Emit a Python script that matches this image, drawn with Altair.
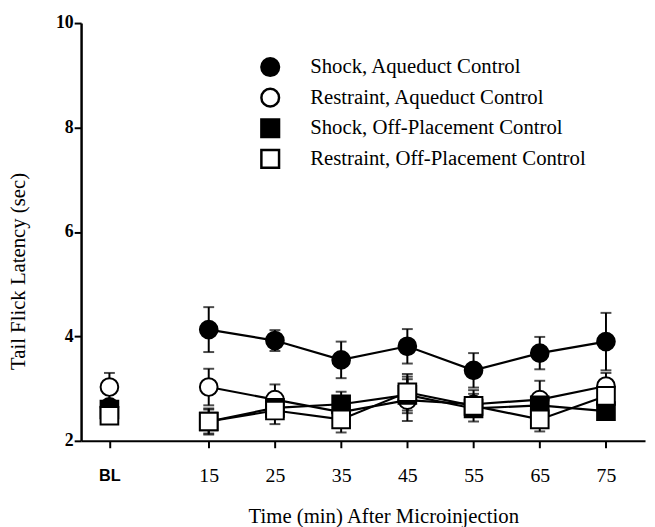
import altair as alt
import pandas as pd

times = [0, 15, 25, 35, 45, 55, 65, 75]
series_names = [
    "Shock, Aqueduct Control",
    "Restraint, Aqueduct Control",
    "Shock, Off-Placement Control",
    "Restraint, Off-Placement Control",
]
shock_aq = [2.65, 4.13, 3.92, 3.55, 3.81, 3.35, 3.68, 3.90]
shock_aq_sem = [0.10, 0.43, 0.20, 0.35, 0.33, 0.33, 0.31, 0.55]
restr_aq = [3.03, 3.03, 2.79, 2.55, 2.78, 2.70, 2.79, 3.05]
restr_aq_sem = [0.27, 0.35, 0.29, 0.15, 0.40, 0.20, 0.36, 0.25]
shock_off = [2.60, 2.37, 2.63, 2.70, 2.88, 2.62, 2.68, 2.57]
shock_off_sem = [0.15, 0.25, 0.15, 0.24, 0.35, 0.15, 0.20, 0.10]
restr_off = [2.48, 2.37, 2.58, 2.41, 2.93, 2.67, 2.41, 2.86]
restr_off_sem = [0.10, 0.23, 0.26, 0.25, 0.35, 0.30, 0.23, 0.15]

means = [shock_aq, restr_aq, shock_off, restr_off]
sems = [shock_aq_sem, restr_aq_sem, shock_off_sem, restr_off_sem]

rows = []
for i, name in enumerate(series_names):
    for t, m, s in zip(times, means[i], sems[i]):
        rows.append({"series": name, "order": i, "time": t, "mean": m,
                     "lo": m - s, "hi": m + s})
df = pd.DataFrame(rows)

xscale = alt.Scale(domain=[-4.28, 80.9], nice=False, zero=False)
yscale = alt.Scale(domain=[2, 10], nice=False, zero=False)

is_bl = "datum.value == 0"
xaxis = alt.Axis(
    values=times,
    labelExpr="datum.value == 0 ? 'BL' : datum.label",
    labelFont={"condition": {"test": is_bl, "value": "Liberation Sans"}, "value": "Liberation Serif"},
    labelFontWeight={"condition": {"test": is_bl, "value": "bold"}, "value": "normal"},
    labelFontSize={"condition": {"test": is_bl, "value": 16.5}, "value": 20},
    labelColor="black",
    labelBaseline="middle",
    labelPadding=28,
    labelFlush=False,
    labelOverlap=False,
    grid=False,
    domainColor="black",
    domainWidth=2,
    tickColor="black",
    tickWidth=2,
    tickSize=7,
    title="Time (min) After Microinjection",
    titleFont="Liberation Serif",
    titleFontSize=21,
    titleFontWeight="normal",
    titleColor="black",
    titleX=306,
    titleY=77,
    titleAlign="center",
    titleBaseline="middle",
)
yaxis = alt.Axis(
    values=[2, 4, 6, 8, 10],
    labelFont="Liberation Serif",
    labelFontSize=18,
    labelFontWeight="bold",
    labelColor="black",
    labelPadding=1,
    grid=False,
    domainColor="black",
    domainWidth=2.5,
    tickColor="black",
    tickWidth=2,
    tickSize=7,
    title="Tail Flick Latency (sec)",
    titleFont="Liberation Serif",
    titleFontSize=21,
    titleFontWeight="normal",
    titleColor="black",
    titleX=-63,
    titleY=251,
    titleAngle=-90,
    titleAlign="center",
    titleBaseline="middle",
)

X = alt.X("time:Q", scale=xscale, axis=xaxis)
base = alt.Chart(df)

lines = base.transform_filter("datum.time > 0").mark_line(
    color="black", strokeWidth=2.2
).encode(x=X, y=alt.Y("mean:Q", scale=yscale, axis=yaxis), detail="series:N")

bars = base.mark_rule(color="black", strokeWidth=2).encode(
    x=alt.X("time:Q", scale=xscale), y=alt.Y("lo:Q", scale=yscale), y2="hi:Q"
)
cap_hi = base.mark_tick(orient="horizontal", size=11, thickness=2, color="black").encode(
    x=alt.X("time:Q", scale=xscale), y=alt.Y("hi:Q", scale=yscale)
)
cap_lo = base.mark_tick(orient="horizontal", size=11, thickness=2, color="black").encode(
    x=alt.X("time:Q", scale=xscale), y=alt.Y("lo:Q", scale=yscale)
)

leg = alt.Legend(
    title=None,
    orient="none",
    legendX=181,
    legendY=34,
    symbolSize=320,
    symbolStrokeWidth=2.5,
    symbolStrokeColor="black",
    symbolOpacity=1,
    labelFont="Liberation Serif",
    labelFontSize=21,
    labelColor="black",
    labelOffset=30,
    rowPadding=2,
    padding=0,
    labelLimit=400,
)

points = base.mark_point(
    filled=True, opacity=1, stroke="black", strokeWidth=2, size=320
).encode(
    x=alt.X("time:Q", scale=xscale),
    y=alt.Y("mean:Q", scale=yscale),
    shape=alt.Shape("series:N", sort=series_names,
                    scale=alt.Scale(domain=series_names, range=["circle", "circle", "square", "square"]),
                    legend=leg),
    fill=alt.Fill("series:N", sort=series_names,
                  scale=alt.Scale(domain=series_names, range=["black", "white", "black", "white"]),
                  legend=leg),
    stroke=alt.Stroke("series:N", sort=series_names,
                      scale=alt.Scale(domain=series_names, range=["black", "black", "black", "black"]),
                      legend=leg),
    order=alt.Order("order:Q"),
)

chart = alt.layer(lines, bars, cap_hi, cap_lo, points).properties(
    width=571,
    height=423,
    autosize=alt.AutoSizeParams(type="none"),
    padding={"left": 74, "top": 12, "right": 2, "bottom": 84},
    background="white",
).configure_view(stroke=None)

chart.save("out.html", embed_options={"renderer": "svg", "actions": False})
